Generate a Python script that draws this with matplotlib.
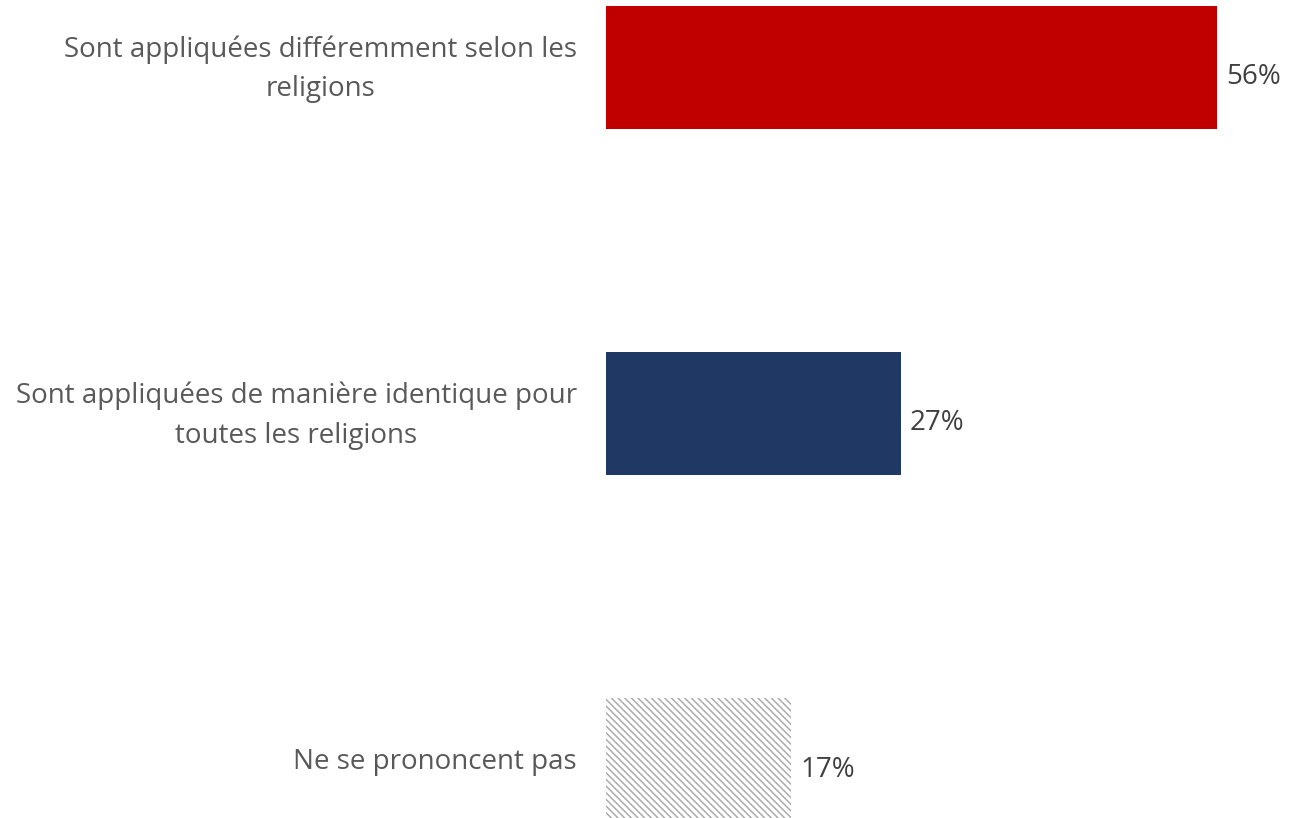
import numpy as np
import matplotlib
matplotlib.use("Agg")
import matplotlib.pyplot as plt

# ─── Data ──────────────────────────────────────────────────────────────────────
categories = [
    "Sont appliquées différemment selon les\nreligions",
    "Sont appliquées de manière identique pour\ntoutes les religions",
    "Ne se prononcent pas",
]
values = [56, 27, 17]
value_labels = ["56%", "27%", "17%"]

plt.rcParams["font.family"] = ["Open Sans", "DejaVu Sans"]
plt.rcParams["hatch.linewidth"] = 1.0

fig = plt.figure(figsize=(12.91, 8.18), dpi=100)
ax = fig.add_axes([606 / 1291, 0, 1 - 606 / 1291, 1])

y = np.arange(len(categories))
h = 0.355
ax.barh(y[0], values[0], height=h, color="#C00000")
ax.barh(y[1], values[1], height=h, color="#203864")
# hatched "no answer" bar, fine downward diagonal lines
ax.barh(y[2], values[2], height=h, color="white", edgecolor="#A6A6A6",
        hatch="\\" * 5, linewidth=0)

ax.set_xlim(0, 62.8)
ax.set_ylim(2.169, -0.195)
ax.axis("off")

for yi, v, lab in zip(y, values, value_labels):
    ax.annotate(lab, xy=(v, yi), xycoords="data", xytext=(9, -10),
                textcoords="offset pixels", va="center", ha="left",
                fontsize=20, color="#404040")

for yi, cat in zip(y, categories):
    ax.annotate(cat, xy=(0, yi), xycoords="data", xytext=(-29, -2),
                textcoords="offset pixels", ha="right", va="center",
                multialignment="center", fontsize=20, color="#595959",
                linespacing=1.55)

fig.savefig("out.png", dpi=100)
